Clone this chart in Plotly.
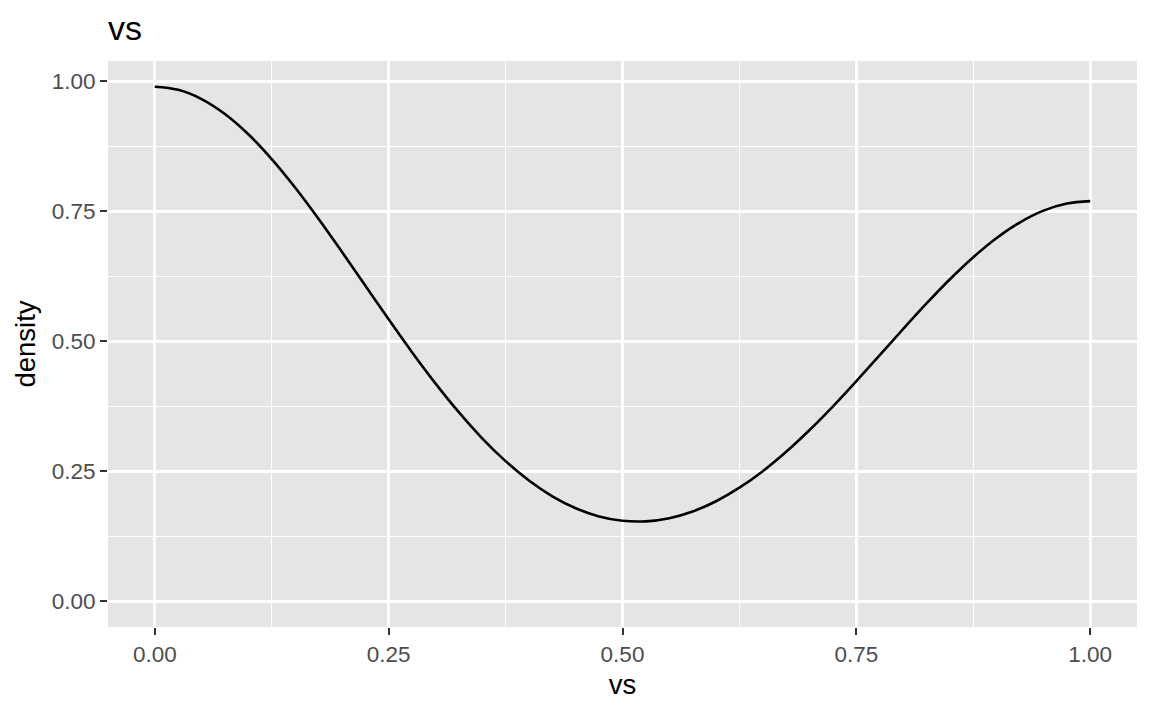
import plotly.graph_objects as go

# density of vs
vs_x = [0.000, 0.025, 0.050, 0.075, 0.100, 0.125, 0.150, 0.175, 0.200, 0.225,
        0.250, 0.275, 0.300, 0.325, 0.350, 0.375, 0.400, 0.425, 0.450, 0.475,
        0.500, 0.525, 0.550, 0.575, 0.600, 0.625, 0.650, 0.675, 0.700, 0.725,
        0.750, 0.775, 0.800, 0.825, 0.850, 0.875, 0.900, 0.925, 0.950, 0.975,
        1.000]
density = [0.9895, 0.9835, 0.9658, 0.9370, 0.8981, 0.8505, 0.7958, 0.7357,
           0.6722, 0.6071, 0.5422, 0.4790, 0.4191, 0.3636, 0.3134, 0.2695,
           0.2322, 0.2019, 0.1789, 0.1632, 0.1548, 0.1537, 0.1598, 0.1727,
           0.1924, 0.2184, 0.2502, 0.2874, 0.3293, 0.3749, 0.4234, 0.4733,
           0.5236, 0.5727, 0.6193, 0.6617, 0.6987, 0.7288, 0.7512, 0.7650,
           0.7696]

tick_vals = [0.00, 0.25, 0.50, 0.75, 1.00]
tick_text = ["0.00", "0.25", "0.50", "0.75", "1.00"]
minor_vals = [0.125, 0.375, 0.625, 0.875]

FONT = "Liberation Sans, Arial, Helvetica, sans-serif"

fig = go.Figure()
fig.add_trace(go.Scatter(x=vs_x, y=density, mode="lines",
                         line=dict(color="black", width=2.6, shape="spline", smoothing=1.0),
                         hoverinfo="skip", showlegend=False))

axis_common = dict(
    showgrid=True, gridcolor="white", gridwidth=2.6,
    zeroline=False, showline=False,
    ticks="outside", ticklen=7, tickwidth=2, tickcolor="#333333",
    tickfont=dict(family=FONT, size=22.5, color="#4D4D4D"),
    tickvals=tick_vals, ticktext=tick_text,
    minor=dict(showgrid=True, gridcolor="white", gridwidth=1.4,
               tickvals=minor_vals, ticks=""),
)

fig.update_layout(
    width=1152, height=711,
    margin=dict(l=108, r=15, t=61, b=84),
    paper_bgcolor="white", plot_bgcolor="#E5E5E5",
    title=dict(text="vs", font=dict(family=FONT, size=34, color="black"),
               x=108/1152, xref="container", xanchor="left",
               y=1 - 28/711, yref="container", yanchor="middle"),
    xaxis=dict(range=[-0.05, 1.05],
               title=dict(text="vs", font=dict(family=FONT, size=27.5, color="black"), standoff=8),
               **axis_common),
    yaxis=dict(range=[-0.0495, 1.0390],
               title=dict(text="density", font=dict(family=FONT, size=27.5, color="black"), standoff=8),
               **axis_common),
)

fig.write_html("out.html", config={"displayModeBar": False},
               post_script="document.body.style.margin='0px';")
